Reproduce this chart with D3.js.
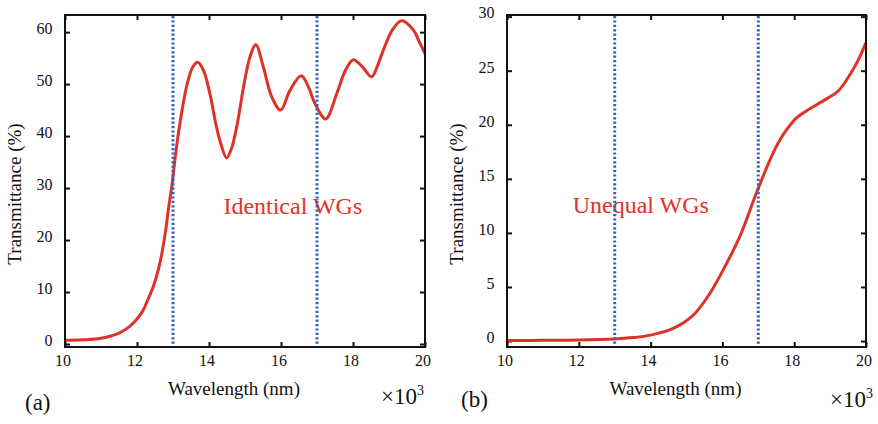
<!DOCTYPE html>
<html>
<head>
<meta charset="utf-8">
<script src="https://cdn.jsdelivr.net/npm/d3@7"></script>
<style>
  html, body { margin: 0; padding: 0; background: #fff; }
</style>
</head>
<body>
<svg id="chart" width="878" height="424"></svg>
<script>
// Transmission spectra of the coupled waveguide pair (wavelength in nm)
const wavelengthsA = [10000, 10500, 11000, 11500, 11800, 12000, 12170, 12300, 12450, 12600,
  12690, 12800, 12870, 12960, 13100, 13240, 13400, 13550, 13690, 13850,
  14030, 14200, 14310, 14490, 14620, 14770, 15000, 15150, 15300, 15510,
  15740, 15990, 16250, 16560, 16760, 16940, 17240, 17550, 17800, 18010,
  18250, 18520, 18650, 18840, 19100, 19350, 19680, 19850, 20000];
const transmittanceA = [0.7, 0.8, 1.1, 2.1, 3.4, 4.8, 6.5, 8.5, 11.0, 14.5,
  17.4, 22.0, 25.8, 30.0, 38.0, 44.5, 50.2, 53.3, 54.2, 52.6,
  48.0, 42.0, 39.0, 35.8, 37.5, 41.8, 51.0, 55.5, 57.6, 53.3,
  47.6, 45.0, 48.8, 51.6, 49.5, 46.3, 43.3, 48.2, 52.8, 54.7,
  53.4, 51.4, 53.0, 56.5, 60.5, 62.2, 60.4, 58.0, 55.9];

const wavelengthsB = [10000, 11000, 12000, 13000, 13500, 14000, 14630, 15190, 15650, 16120,
  16490, 16960, 17360, 17600, 17800, 18050, 18350, 18850, 19220, 19690, 20000];
const transmittanceB = [0.05, 0.07, 0.1, 0.2, 0.32, 0.55, 1.17, 2.4, 4.4, 7.2,
  9.7, 13.8, 17.0, 18.6, 19.6, 20.6, 21.3, 22.3, 23.1, 25.4, 27.6];

const xTicks = [10000, 12000, 14000, 16000, 18000, 20000];
const yTicksA = [0, 10, 20, 30, 40, 50, 60];
const yTicksB = [0, 5, 10, 15, 20, 25, 30];
const markerWavelengths = [13000, 17000];

const panels = [
  { tag: "(a)", note: "Identical WGs", noteAt: [14400, 25.0],
    xs: wavelengthsA, ys: transmittanceA, yTicks: yTicksA, yDomain: [-0.58, 63.3],
    left: 65, right: 425, titleX: 21, tagX: 25, tagY: 410, expY: 404 },
  { tag: "(b)", note: "Unequal WGs", noteAt: [11830, 11.8],
    xs: wavelengthsB, ys: transmittanceB, yTicks: yTicksB, yDomain: [-0.55, 30.15],
    left: 507, right: 866, titleX: 463, tagX: 461, tagY: 407, expY: 407 }
];

const plotTop = 15, plotBottom = 347;
const serif = "'Liberation Serif', 'Times New Roman', Times, serif";
const ink = "#111";
const lineRed = "#dd3326", dotBlue = "#3560c2";
const svg = d3.select("#chart").style("font-family", serif);

panels.forEach(p => {
  const x = d3.scaleLinear().domain([10000, 20000]).range([p.left, p.right]);
  const y = d3.scaleLinear().domain(p.yDomain).range([plotBottom, plotTop]);
  const g = svg.append("g");
  const tickLen = 5;

  const styleAxis = sel => {
    sel.attr("font-family", serif);
    sel.select(".domain").remove();
    sel.selectAll("line").attr("stroke", ink).attr("stroke-width", 2);
    sel.selectAll("text").style("font-family", serif).attr("fill", ink).attr("font-size", 16);
  };

  // bottom axis with labels, inward ticks
  const xAxis = g.append("g").attr("transform", `translate(0,${plotBottom})`)
    .call(d3.axisBottom(x).tickValues(xTicks).tickSizeInner(-tickLen).tickSizeOuter(0)
      .tickFormat(d => d / 1000).tickPadding(0))
    .call(styleAxis);
  xAxis.selectAll("text").attr("dy", null).attr("y", 19).attr("x", -2.5);

  // top mirror ticks
  g.append("g").attr("transform", `translate(0,${plotTop})`)
    .call(d3.axisTop(x).tickValues(xTicks).tickSizeInner(-tickLen).tickSizeOuter(0).tickFormat(""))
    .call(styleAxis);

  // left axis with labels
  const yAxis = g.append("g").attr("transform", `translate(${p.left},0)`)
    .call(d3.axisLeft(y).tickValues(p.yTicks).tickSizeInner(-tickLen).tickSizeOuter(0).tickPadding(12.5))
    .call(styleAxis);
  yAxis.selectAll("text").attr("dy", "1.3");

  // right mirror ticks
  g.append("g").attr("transform", `translate(${p.right},0)`)
    .call(d3.axisRight(y).tickValues(p.yTicks).tickSizeInner(-tickLen).tickSizeOuter(0).tickFormat(""))
    .call(styleAxis);

  // spectrum curve
  const pts = p.xs.map((v, i) => [v, p.ys[i]]);
  g.append("path").datum(pts)
    .attr("fill", "none").attr("stroke", lineRed).attr("stroke-width", 3)
    .attr("stroke-linejoin", "round")
    .attr("d", d3.line().x(d => x(d[0])).y(d => y(d[1])).curve(d3.curveCatmullRom.alpha(0.5)));

  // annotation
  g.append("text").attr("x", x(p.noteAt[0])).attr("y", y(p.noteAt[1]))
    .style("font-family", serif).attr("font-size", 24).attr("fill", lineRed).text(p.note);

  // dotted wavelength markers
  g.selectAll("line.marker").data(markerWavelengths).join("line")
    .attr("class", "marker")
    .attr("x1", d => x(d)).attr("x2", d => x(d))
    .attr("y1", plotTop + 1).attr("y2", plotBottom - 1)
    .attr("stroke", dotBlue).attr("stroke-width", 3).attr("stroke-dasharray", "2.2,2.2");

  // frame
  g.append("rect").attr("x", p.left).attr("y", plotTop)
    .attr("width", p.right - p.left).attr("height", plotBottom - plotTop)
    .attr("fill", "none").attr("stroke", ink).attr("stroke-width", 2);

  // axis titles
  g.append("text").attr("x", (p.left + p.right) / 2 - 11).attr("y", 395)
    .style("font-family", serif).attr("fill", ink)
    .attr("text-anchor", "middle").attr("font-size", 19).text("Wavelength (nm)");
  g.append("text").attr("transform", `translate(${p.titleX},194) rotate(-90)`)
    .style("font-family", serif).attr("fill", ink)
    .attr("text-anchor", "middle").attr("font-size", 19).text("Transmittance (%)");

  // panel tag and exponent
  g.append("text").attr("x", p.tagX).attr("y", p.tagY).style("font-family", serif)
    .attr("fill", ink).attr("font-size", 23).text(p.tag);
  const ex = g.append("text").attr("x", p.right + (p.left > 400 ? 7 : -1)).attr("y", p.expY)
    .style("font-family", serif).attr("fill", ink)
    .attr("text-anchor", "end").attr("font-size", 23);
  ex.append("tspan").text("×10");
  ex.append("tspan").attr("font-size", 14).attr("dy", -9).text("3");
});
</script>
</body>
</html>
